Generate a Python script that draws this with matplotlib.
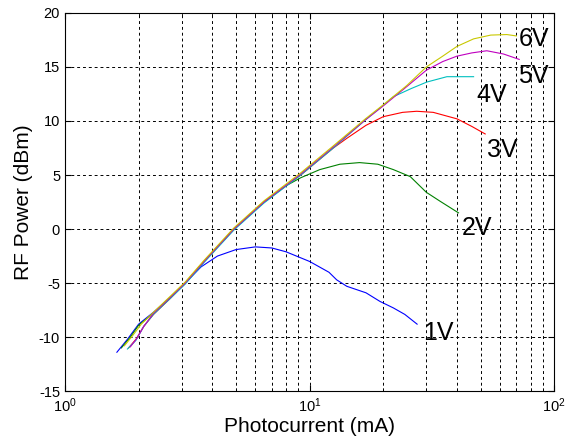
import matplotlib
matplotlib.use("Agg")
import matplotlib.pyplot as plt
from matplotlib.ticker import LogLocator, NullFormatter, FixedLocator

plt.rcParams['font.family'] = ['Liberation Sans', 'DejaVu Sans']
plt.rcParams['mathtext.default'] = 'regular'
plt.rcParams['axes.unicode_minus'] = False

# photocurrent (mA) and RF power (dBm) per bias voltage
x_1v = [1.63, 1.8, 2.0, 2.3, 2.7, 3.1, 3.6, 4.2, 5.0, 6.0, 7.0, 8.0, 10.0, 12.0, 12.9, 14.2, 17.0, 19.4, 22.0, 24.5, 27.5]
y_1v = [-11.4, -10.2, -8.8, -7.7, -6.3, -5.0, -3.5, -2.5, -1.9, -1.65, -1.75, -2.1, -3.0, -4.0, -4.7, -5.3, -5.9, -6.7, -7.3, -7.9, -8.8]

x_2v = [1.7, 1.85, 2.0, 2.3, 2.7, 3.1, 3.7, 4.9, 6.5, 8.0, 9.2, 11.0, 13.3, 16.0, 19.0, 22.0, 25.8, 30.0, 34.0, 40.6]
y_2v = [-11.0, -10.0, -8.9, -7.8, -6.3, -5.0, -3.0, 0.0, 2.5, 4.0, 4.75, 5.5, 6.0, 6.15, 6.0, 5.5, 4.85, 3.4, 2.6, 1.5]

x_3v = [1.82, 1.95, 2.1, 2.3, 2.7, 3.1, 3.7, 4.9, 6.5, 9.2, 12.5, 14.2, 17.0, 20.0, 24.0, 27.4, 32.0, 40.0, 46.0, 52.2]
y_3v = [-11.0, -10.2, -9.0, -7.9, -6.4, -5.0, -3.0, 0.0, 2.5, 5.0, 7.5, 8.4, 9.6, 10.4, 10.8, 10.9, 10.8, 10.2, 9.5, 8.8]

x_4v = [1.8, 1.95, 2.1, 2.3, 2.7, 3.1, 3.7, 4.9, 6.5, 9.2, 12.5, 16.9, 19.4, 22.0, 26.0, 30.1, 36.4, 46.8]
y_4v = [-11.1, -10.3, -9.0, -7.9, -6.4, -5.1, -3.1, -0.1, 2.4, 5.0, 7.5, 10.1, 11.2, 12.25, 13.0, 13.6, 14.1, 14.1]

x_5v = [1.85, 1.97, 2.1, 2.3, 2.7, 3.1, 3.7, 4.9, 6.5, 9.2, 12.5, 16.9, 20.0, 25.0, 30.0, 35.0, 40.0, 46.0, 53.0, 62.0, 71.9]
y_5v = [-10.9, -10.1, -9.0, -7.8, -6.3, -5.0, -3.0, 0.0, 2.5, 5.1, 7.6, 10.1, 11.4, 13.2, 14.7, 15.5, 16.0, 16.3, 16.5, 16.2, 15.7]

x_6v = [1.75, 1.9, 2.05, 2.3, 2.7, 3.1, 3.7, 4.9, 6.5, 9.2, 12.5, 16.9, 20.0, 25.0, 30.0, 35.0, 40.0, 46.8, 55.0, 64.0, 70.0]
y_6v = [-10.8, -9.8, -8.8, -7.7, -6.2, -4.9, -2.9, 0.1, 2.6, 5.2, 7.7, 10.2, 11.5, 13.3, 15.0, 16.0, 16.9, 17.6, 17.95, 18.0, 17.87]

labels = ['1V', '2V', '3V', '4V', '5V', '6V']
label_x = [29.0, 41.9, 53.0, 48.0, 71.0, 71.9]
label_y = [-9.6, 0.1, 7.3, 12.4, 14.2, 17.6]

xs = [x_1v, x_2v, x_3v, x_4v, x_5v, x_6v]
ys = [y_1v, y_2v, y_3v, y_4v, y_5v, y_6v]
colors = ['#0000ff', '#008000', '#ff0000', '#00bfbf', '#bf00bf', '#c8c800']

fig = plt.figure(figsize=(5.65, 4.46), dpi=100)
ax = fig.add_axes([0.115, 0.123, 0.866, 0.848])

for i in range(len(xs)):
    ax.plot(xs[i], ys[i], color=colors[i], linewidth=0.8)
    ax.text(label_x[i], label_y[i], labels[i], fontsize=18, ha='left', va='center')

ax.set_xscale('log')
ax.set_xlim(1, 100)
ax.set_ylim(-15, 20)
ax.set_yticks([-15, -10, -5, 0, 5, 10, 15, 20])
ax.xaxis.set_major_locator(FixedLocator([1, 10, 100]))
ax.set_xticklabels(['$10^0$', '$10^1$', '$10^2$'])
ax.xaxis.set_minor_locator(LogLocator(base=10, subs=range(2, 10)))
ax.xaxis.set_minor_formatter(NullFormatter())

ax.grid(True, which='both', axis='x', color='black', linestyle=(0, (3, 3)), linewidth=0.7)
ax.grid(True, which='major', axis='y', color='black', linestyle=(0, (3, 3)), linewidth=0.7)

ax.tick_params(direction='in', which='both', top=True, right=True, labelsize=10.5, length=4)
ax.tick_params(which='minor', length=2.5)
for s in ax.spines.values():
    s.set_linewidth(0.8)

ax.set_xlabel('Photocurrent (mA)', fontsize=15, labelpad=2)
ax.set_ylabel('RF Power (dBm)', fontsize=15, labelpad=4)

fig.savefig('out.png', dpi=100)
